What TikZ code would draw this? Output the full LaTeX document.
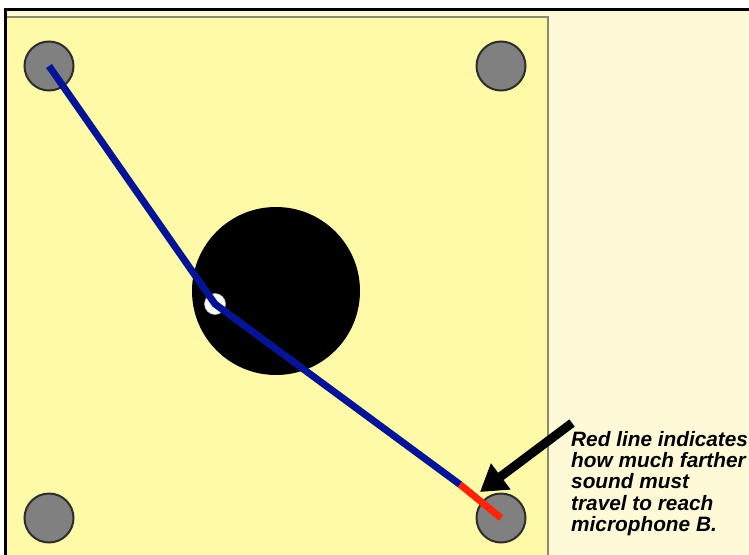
\documentclass[tikz,border=0pt]{standalone}
\usepackage{fontspec}
\setmainfont{Liberation Sans}
\usetikzlibrary{arrows.meta}
\definecolor{creambg}{RGB}{254,250,216}
\definecolor{paneyellow}{RGB}{255,250,168}
\definecolor{paneedge}{RGB}{140,138,110}
\definecolor{micgray}{RGB}{128,128,128}
\definecolor{micedge}{RGB}{45,45,45}
\definecolor{pathblue}{RGB}{5,20,150}
\definecolor{pathred}{RGB}{255,35,10}
\tikzset{
  mic/.style={circle, fill=micgray, draw=micedge, line width=2pt, minimum size=49pt, inner sep=0pt},
  soundpath/.style={line width=7pt, color=pathblue},
  extrapath/.style={line width=7pt, color=pathred},
  pointer/.style={line width=9pt, -{Triangle[length=26pt,width=31pt]}},
  note/.style={anchor=north west, inner sep=0pt, align=left, font=\fontsize{20.8}{21.3}\selectfont\bfseries\itshape}
}
\begin{document}
\begin{tikzpicture}[x=1pt,y=-1pt]
\useasboundingbox (0,0) rectangle (749,554);
\begin{scope}
\clip (0,0) rectangle (749,554);
\fill[white] (0,0) rectangle (749,554);
\fill[creambg] (5,9) rectangle (760,570);
\fill[paneyellow] (5,17) rectangle (548,570);
\draw[paneedge, line width=2.5pt] (5,17) -- (548,17) -- (548,570);
% microphones
\node[mic] (tl) at (49,66) {};
\node[mic] (tr) at (501,66) {};
\node[mic] (bl) at (49,518) {};
\node[mic] (br) at (501,518) {};
% obstacle
\node[circle, fill=black, minimum size=168pt, inner sep=0pt] (obst) at (276,291) {};
\node[circle, fill=white, draw=gray!60, line width=0.6pt, minimum size=21pt, inner sep=0pt] (src) at (215,304) {};
% sound path
\coordinate (split) at (460,484.5);
\draw[soundpath] (tl.center) -- (src.center) -- (split);
\draw[extrapath] (split) -- (br.center);
% arrow
\coordinate (tail) at (572,423);
\coordinate (tip) at (480,492);
\draw[pointer] (tail) -- (tip);
% text
\node[note] (txt) at (571,431) {Red line indicates\\how much farther\\sound must\\travel to reach\\microphone B.};
% outer frame
\draw[black, line width=3pt] (5,9) rectangle (770,580);
\end{scope}
\end{tikzpicture}
\end{document}
